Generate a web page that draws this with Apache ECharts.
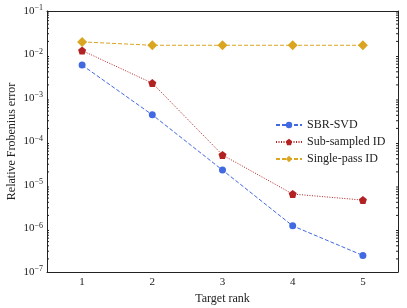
<!DOCTYPE html>
<html><head><meta charset="utf-8">
<script src="https://cdn.jsdelivr.net/npm/echarts@6/dist/echarts.min.js"></script>
<style>html,body{margin:0;padding:0;background:#fff}#c{width:407px;height:308px}</style>
</head><body><div id="c"></div>
<script>
const ranks = ['1','2','3','4','5'];
const sbrSvd = [5.7e-3, 4.1e-4, 2.2e-5, 1.15e-6, 2.4e-7];
const subSampledId = [1.23e-2, 2.2e-3, 4.9e-5, 6.2e-6, 4.5e-6];
const singlePassId = [1.95e-2, 1.63e-2, 1.63e-2, 1.63e-2, 1.63e-2];
const yDecades = [-7, -6, -5, -4, -3, -2, -1];
const xTitle = 'Target rank';
const yTitle = 'Relative Frobenius error';

const minorVals = [];
for (let e = yDecades[0]; e < yDecades[yDecades.length - 1]; e++) {
  for (let m = 2; m <= 9; m++) minorVals.push(m * Math.pow(10, e));
}
const FONT = 'Liberation Serif';
const AX = '#222';
const pentagon = 'path://M0,-1 L0.951,-0.309 L0.588,0.809 L-0.588,0.809 L-0.951,-0.309 Z';

const chart = echarts.init(document.getElementById('c'));
chart.setOption({
  animation: false,
  backgroundColor: '#fff',
  grid: { left: 47, right: 9, top: 11, bottom: 36, containLabel: false, outerBoundsMode: 'none' },
  graphic: [{
    type: 'text', x: 12, y: 141.5, rotation: Math.PI / 2,
    style: { text: yTitle, fontFamily: FONT, fontSize: 12, fill: '#222', align: 'center', verticalAlign: 'middle' }
  }],
  legend: {
    left: 270, top: 114, orient: 'vertical', itemWidth: 26, itemHeight: 8, itemGap: 5,
    textStyle: { fontFamily: FONT, fontSize: 12, color: '#222' },
    data: ['SBR-SVD', 'Sub-sampled ID', 'Single-pass ID']
  },
  xAxis: [{
    type: 'category', data: ranks, boundaryGap: true,
    name: xTitle, nameLocation: 'middle', nameGap: 19,
    nameTextStyle: { fontFamily: FONT, fontSize: 12, color: '#222' },
    axisLine: { lineStyle: { color: AX, width: 1 } },
    axisTick: { inside: true, alignWithLabel: true, length: 4, lineStyle: { color: AX } },
    axisLabel: { fontFamily: FONT, fontSize: 11, color: '#222', margin: 5 },
    splitLine: { show: false }
  }, {
    type: 'category', data: ranks, boundaryGap: true, position: 'top',
    axisLine: { lineStyle: { color: AX, width: 1 } },
    axisTick: { inside: true, alignWithLabel: true, length: 4, lineStyle: { color: AX } },
    axisLabel: { show: false }, splitLine: { show: false }
  }],
  yAxis: [{
    type: 'log', logBase: 10, min: Math.pow(10, yDecades[0]), max: Math.pow(10, yDecades[yDecades.length - 1]),
    axisLine: { show: true, lineStyle: { color: AX, width: 1 } },
    axisTick: { inside: true, length: 4, lineStyle: { color: AX } },
    splitLine: { show: false },
    axisLabel: {
      margin: 4, color: '#222',
      formatter: v => '{b|10}{s|\u2212' + Math.abs(Math.round(Math.log10(v))) + '}',
      rich: {
        b: { fontFamily: FONT, fontSize: 11, color: '#222' },
        s: { fontFamily: FONT, fontSize: 8, color: '#222', verticalAlign: 'top', padding: [0, 0, 6, 0] }
      }
    }
  }, {
    type: 'log', logBase: 10, min: Math.pow(10, yDecades[0]), max: Math.pow(10, yDecades[yDecades.length - 1]),
    position: 'right',
    axisLine: { show: true, lineStyle: { color: AX, width: 1 } },
    axisTick: { inside: true, length: 4, lineStyle: { color: AX } },
    axisLabel: { show: false }, splitLine: { show: false }
  }],
  series: [
    {
      name: 'SBR-SVD', type: 'line', data: sbrSvd, symbol: 'circle', symbolSize: 7,
      itemStyle: { color: '#4169E1' },
      lineStyle: { color: '#4169E1', width: 1, type: [4, 2] }
    },
    {
      name: 'Sub-sampled ID', type: 'line', data: subSampledId, symbol: pentagon, symbolSize: 8,
      itemStyle: { color: '#B22222' },
      lineStyle: { color: '#B22222', width: 1, type: [1, 1.5] }
    },
    {
      name: 'Single-pass ID', type: 'line', data: singlePassId, symbol: 'diamond', symbolSize: [10, 10],
      itemStyle: { color: '#DAA520' },
      lineStyle: { color: '#DAA520', width: 1, type: [4, 2] }
    },
    {
      type: 'custom', silent: true, legendHoverLink: false, clip: false,
      data: minorVals.map(v => [0, v]),
      renderItem: (params, api) => {
        const y = api.coord([0, api.value(1)])[1];
        const cs = params.coordSys;
        const st = { stroke: AX, lineWidth: 1 };
        return {
          type: 'group', children: [
            { type: 'line', shape: { x1: cs.x, y1: y, x2: cs.x + 2, y2: y }, style: st },
            { type: 'line', shape: { x1: cs.x + cs.width - 2, y1: y, x2: cs.x + cs.width, y2: y }, style: st }
          ]
        };
      }
    }
  ]
});
</script></body></html>
